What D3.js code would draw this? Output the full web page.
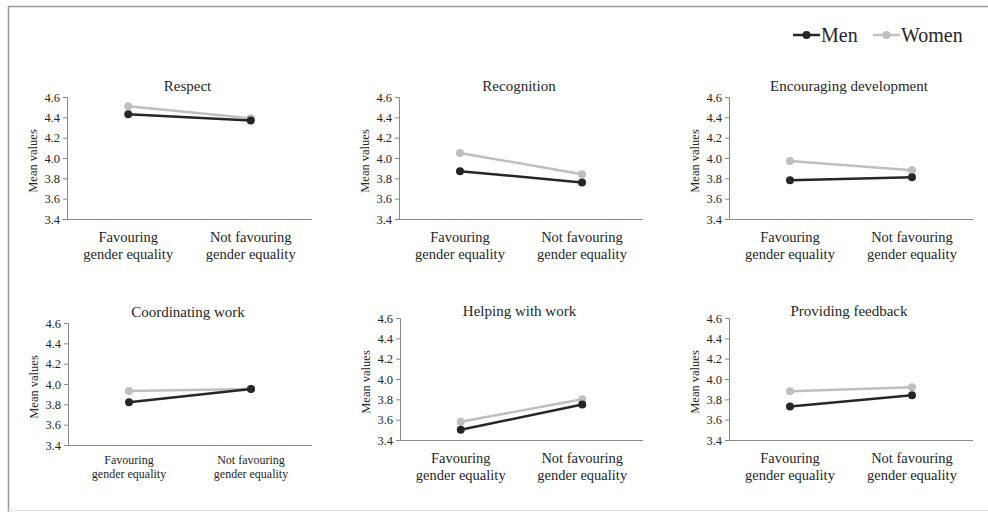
<!DOCTYPE html>
<html>
<head>
<meta charset="utf-8">
<script src="https://cdn.jsdelivr.net/npm/d3@7"></script>
<style>
  body { margin: 0; background: #fff; }
</style>
</head>
<body>
<div id="chart"></div>
<script>
// Chart data
const categories = ["Favouring|gender equality", "Not favouring|gender equality"];
const titles = ["Respect", "Recognition", "Encouraging development",
                "Coordinating work", "Helping with work", "Providing feedback"];
const menValues = [
  [4.43, 4.37],
  [3.87, 3.76],
  [3.78, 3.81],
  [3.82, 3.95],
  [3.50, 3.75],
  [3.73, 3.84]
];
const womenValues = [
  [4.51, 4.39],
  [4.05, 3.84],
  [3.97, 3.88],
  [3.93, 3.95],
  [3.58, 3.80],
  [3.88, 3.92]
];
const yTicks = [3.4, 3.6, 3.8, 4.0, 4.2, 4.4, 4.6];
const seriesNames = ["Men", "Women"];

const width = 988, height = 512;
const colors = { Men: "#262626", Women: "#bfbfbf" };
const axisColor = "#898989";
const textColor = "#262626";
const serif = "'Liberation Serif', 'Times New Roman', Times, serif";

// panel frames: left/right of x axis, top/bottom of y range
const frames = [
  { x0: 67,  x1: 312, y0: 97,  y1: 219, titleY: 91,  labY: 242, labSize: 14.5 },
  { x0: 399, x1: 643, y0: 97,  y1: 219, titleY: 91,  labY: 242, labSize: 14.5 },
  { x0: 729, x1: 973, y0: 97,  y1: 219, titleY: 91,  labY: 242, labSize: 14.5 },
  { x0: 68,  x1: 312, y0: 323, y1: 445, titleY: 317, labY: 464, labSize: 12 },
  { x0: 400, x1: 643, y0: 318, y1: 440, titleY: 316, labY: 463, labSize: 14.5 },
  { x0: 729, x1: 973, y0: 318, y1: 440, titleY: 316, labY: 463, labSize: 14.5 }
];

const svg = d3.select("#chart").append("svg")
    .attr("width", width)
    .attr("height", height)
    .style("display", "block")
    .style("font-family", serif);

// outer frame
svg.append("path")
    .attr("d", "M8.5,512 V6.5 H988")
    .attr("fill", "none")
    .attr("stroke", "#999")
    .attr("stroke-width", 1.5);
svg.append("line")
    .attr("x1", 8).attr("x2", 988).attr("y1", 510.5).attr("y2", 510.5)
    .attr("stroke", "#e4e4e4");

titles.forEach((title, i) => {
  const f = frames[i];
  const g = svg.append("g");

  const x = d3.scalePoint().domain(categories).range([f.x0, f.x1]).padding(0.5);
  const y = d3.scaleLinear().domain([3.4, 4.6]).range([f.y1, f.y0]);

  // y axis
  const yAxis = g.append("g")
      .attr("transform", `translate(${f.x0},0)`)
      .call(d3.axisLeft(y).tickValues(yTicks).tickFormat(d3.format(".1f")).tickSize(4).tickPadding(3))
      .attr("font-family", null);
  yAxis.select(".domain").attr("stroke", axisColor);
  yAxis.selectAll(".tick line").attr("stroke", axisColor);
  yAxis.selectAll(".tick text")
      .attr("fill", textColor)
      .style("font-size", "12.5px")
      .style("font-family", serif);

  // x axis line
  g.append("line")
      .attr("x1", f.x0).attr("x2", f.x1)
      .attr("y1", f.y1 + 0.5).attr("y2", f.y1 + 0.5)
      .attr("stroke", axisColor);

  // category labels
  categories.forEach(c => {
    const t = g.append("text")
        .attr("x", x(c))
        .attr("y", f.labY)
        .attr("text-anchor", "middle")
        .attr("fill", textColor)
        .style("font-family", serif)
        .style("font-size", f.labSize + "px");
    c.split("|").forEach((line, k) => {
      t.append("tspan")
          .attr("x", x(c))
          .attr("dy", k === 0 ? 0 : f.labSize * 1.2)
          .text(line);
    });
  });

  // title
  g.append("text")
      .attr("x", (f.x0 + f.x1) / 2 - 2)
      .attr("y", f.titleY)
      .attr("text-anchor", "middle")
      .attr("fill", textColor)
      .style("font-family", serif)
      .style("font-size", "15px")
      .text(title);

  // y label
  g.append("text")
      .attr("transform", `translate(${f.x0 - 30},${(f.y0 + f.y1) / 2 + 3}) rotate(-90)`)
      .attr("text-anchor", "middle")
      .attr("fill", textColor)
      .style("font-family", serif)
      .style("font-size", "12.5px")
      .text("Mean values");

  // series: women first (under), then men
  const series = [
    { name: "Women", values: womenValues[i] },
    { name: "Men", values: menValues[i] }
  ];
  const line = d3.line().x((d, k) => x(categories[k])).y(d => y(d));

  series.forEach(s => {
    g.append("path")
        .datum(s.values)
        .attr("d", line)
        .attr("fill", "none")
        .attr("stroke", colors[s.name])
        .attr("stroke-width", 2.5);
    g.selectAll(null)
        .data(s.values)
        .enter().append("circle")
        .attr("cx", (d, k) => x(categories[k]))
        .attr("cy", d => y(d))
        .attr("r", 4)
        .attr("fill", colors[s.name]);
  });
});

// legend
const legendItems = [
  { name: "Men", lx: 793 },
  { name: "Women", lx: 873 }
];
legendItems.forEach(item => {
  const lg = svg.append("g").attr("transform", `translate(${item.lx},35)`);
  lg.append("line")
      .attr("x1", 0).attr("x2", 27)
      .attr("stroke", colors[item.name])
      .attr("stroke-width", 2.5);
  lg.append("circle")
      .attr("cx", 13.5).attr("r", 4)
      .attr("fill", colors[item.name]);
  lg.append("text")
      .attr("x", 28)
      .attr("y", 7)
      .attr("fill", textColor)
      .style("font-family", serif)
      .style("font-size", "20px")
      .text(item.name);
});
</script>
</body>
</html>
